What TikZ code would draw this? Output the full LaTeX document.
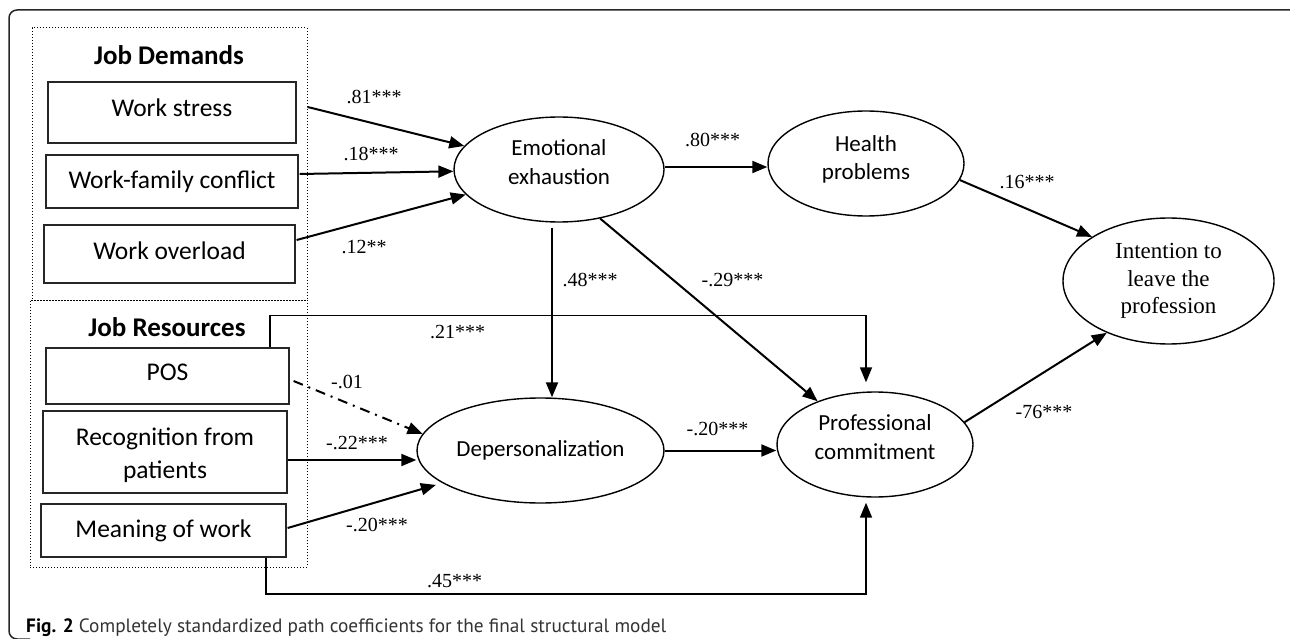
\documentclass[tikz,border=0pt]{standalone}
\usepackage{fontspec}
\setmainfont{Carlito}
\newfontfamily\timesf{Liberation Serif}
\newfontfamily\capfont{PT Sans}
\usetikzlibrary{arrows.meta,shapes.geometric}
\newcommand{\dn}[1]{\rule[-#1]{0pt}{0pt}}
\begin{document}
\begin{tikzpicture}[x=1pt,y=-1pt,
  box/.style={draw=black!85, line width=1.2pt, rectangle, inner sep=0pt, align=center, font=\fontsize{25.5}{33}\selectfont},
  ell/.style={draw=black, line width=1.4pt, ellipse, inner sep=0pt, align=center, font=\fontsize{23}{28.5}\selectfont},
  grp/.style={draw=black, dotted, line width=1pt, rectangle, inner sep=0pt},
  grptitle/.style={font=\bfseries\fontsize{27}{32}\selectfont, inner sep=0pt},
  arr/.style={line width=2pt, -{Triangle[length=15pt,width=12pt]}},
  thinarr/.style={line width=1.6pt, -{Triangle[length=15pt,width=12pt]}},
  coef/.style={font=\timesf\fontsize{20}{24}\selectfont, inner sep=0pt}
]
\useasboundingbox (0,0) rectangle (1290,639);
\clip (0,0) rectangle (1290,639);
% outer frame
\draw[line width=1.5pt, black!85, rounded corners=8pt] (1300,10) -- (9,10) -- (9,639) -- (30,639);

% groups
\node[grp, minimum width=275pt, minimum height=272pt] (JD) at (169.5,164) {};
\node[grp, minimum width=277pt, minimum height=267pt] (JR) at (168.5,433.5) {};
\node[grptitle] (JDt) at (169,55) {Job Demands};
\node[grptitle] (JRt) at (167,327) {Job Resources};

% boxes
\node[box, minimum width=248pt, minimum height=61pt] (WS) at (172,112.5) {Work stress\dn{9pt}};
\node[box, minimum width=252pt, minimum height=53pt] (WF) at (172,181.5) {Work-family conflict};
\node[box, minimum width=251pt, minimum height=58pt] (WO) at (169.5,254) {Work overload\dn{6pt}};
\node[box, minimum width=243pt, minimum height=56pt] (POS) at (167.5,376) {POS\dn{7pt}};
\node[box, minimum width=244pt, minimum height=82pt] (RP) at (165,452) {\rule{0pt}{24pt}Recognition from\\patients};
\node[box, minimum width=245pt, minimum height=53pt] (MW) at (163.5,530.5) {Meaning of work};

% ellipses
\node[ell, minimum width=210pt, minimum height=105pt] (EE) at (559,169.5) {Emotional\\exhaustion\dn{15pt}};
\node[ell, minimum width=196pt, minimum height=105pt] (HP) at (866,163.5) {Health\\problems\dn{12pt}};
\node[ell, minimum width=211pt, minimum height=126pt, font=\timesf\fontsize{23}{27.5}\selectfont] (IN) at (1168.5,281) {Intention to\\leave the\\profession};
\node[ell, minimum width=247pt, minimum height=105pt] (DP) at (540.5,450.5) {Depersonalization};
\node[ell, minimum width=196pt, minimum height=105pt] (PC) at (875,444.5) {Professional\\commitment\dn{15pt}};

% arrows: job demands
\draw[arr] ([shift={(11pt,5.5pt)}]WS.east) -- (EE);
\draw[arr] ([shift={(1pt,7.5pt)}]WF.east) -- (EE);
\draw[arr] ([shift={(1pt,14pt)}]WO.east) -- (EE);
% emotional exhaustion
\draw[arr] ([yshift=2.5pt]EE.east) -- ([yshift=2.5pt]EE.east -| HP.west);
\draw[arr] ([shift={(-7pt,-5pt)}]EE.south) -- ([xshift=-7pt]EE.south |- DP.north);
\draw[arr] (EE.310) -- (PC.143);
% health -> intention
\draw[arr] (HP.350) -- (IN.150);
% PC -> intention
\draw[arr] (PC.14) -- (IN.220);
% resources
\draw[thinarr] ([xshift=102.5pt]POS.north) |- ([shift={(-9pt,76pt)}]PC.north) -- ([shift={(-9pt,9pt)}]PC.north);
\draw[arr, dash pattern=on 10pt off 6pt on 2pt off 6pt] ([shift={(4pt,-5pt)}]POS.east) -- (DP.172);
\draw[arr] ([yshift=-8pt]RP.east) -- ([yshift=-8pt]RP.east -| DP.west);
\draw[arr] ([shift={(1pt,2.5pt)}]MW.east) -- ([xshift=-10pt]DP.200);
\draw[arr] (DP.east) -- (DP.east -| PC.west);
\draw[thinarr] ([xshift=102.5pt]MW.south) |- ([shift={(-9pt,-96pt)}]PC.south) -- ([shift={(-9pt,-5pt)}]PC.south);

% coefficients
\node[coef] (c81) at (374,97) {.81***};
\node[coef] (c18) at (371,154) {.18***};
\node[coef] (c12) at (364,247) {.12**};
\node[coef] (c80) at (712.5,140) {.80***};
\node[coef] (c16) at (1027,182) {.16***};
\node[coef] (c48) at (590,280) {.48***};
\node[coef] (c29) at (732.5,280) {-.29***};
\node[coef] (c21) at (457.5,332) {.21***};
\node[coef] (c01) at (347,382) {-.01};
\node[coef] (c22) at (357,443) {-.22***};
\node[coef] (c20a) at (377,525) {-.20***};
\node[coef] (c20b) at (717.5,429) {-.20***};
\node[coef] (c76) at (1044,412) {-76***};
\node[coef] (c45) at (454.5,581) {.45***};

% caption
\node[anchor=west, inner sep=0pt, font=\capfont\fontsize{19.3}{23}\selectfont, text=black!80] (cap) at (26,628) {\textbf{\color{black}Fig. 2} Completely standardized path coefficients for the final structural model};
\end{tikzpicture}
\end{document}
